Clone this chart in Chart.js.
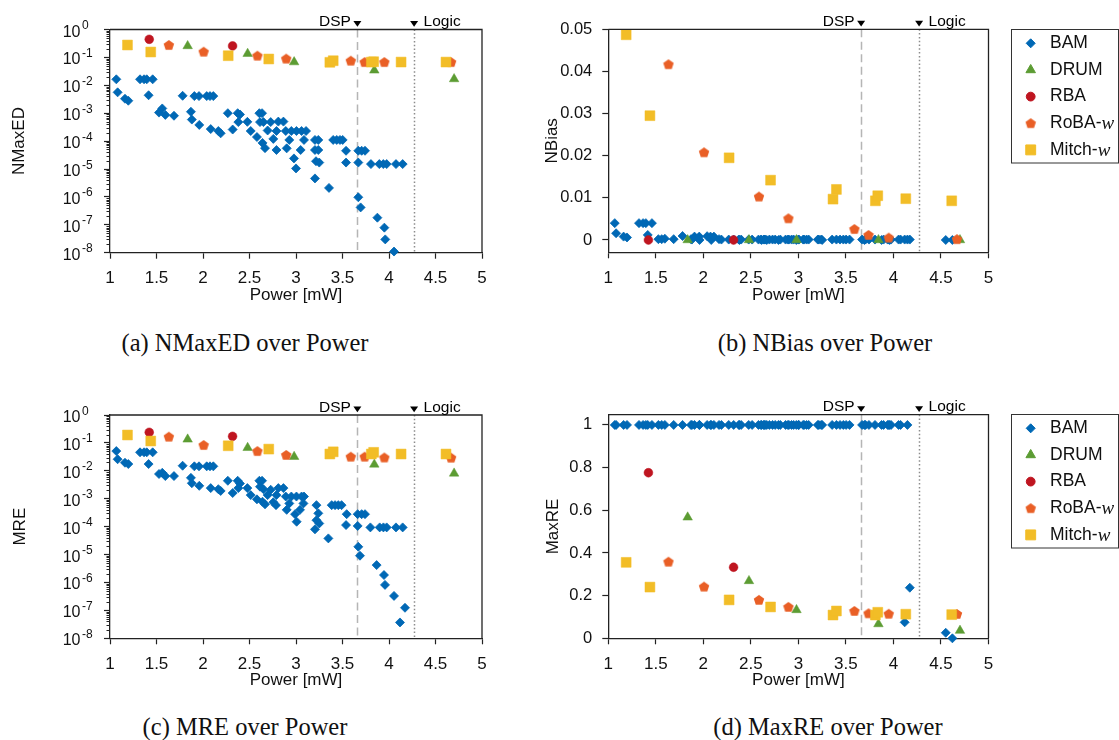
<!DOCTYPE html>
<html>
<head>
<meta charset="utf-8">
<title>Error metrics over power</title>
<script src="https://cdn.jsdelivr.net/npm/chart.js@4.4.1/dist/chart.umd.min.js"></script>
<style>
  html, body { margin: 0; padding: 0; background: #fff; }
  body { width: 1119px; height: 740px; position: relative; overflow: hidden; }
  canvas { position: absolute; display: block; }
  .caption { position: absolute; transform: translate(-50%, -50%); white-space: nowrap;
             font-family: "Liberation Serif", "Times New Roman", serif; font-size: 24.5px; color: #111; }
</style>
</head>
<body>
<canvas id="panelA" width="500" height="310" style="left:0;top:0"></canvas>
<canvas id="panelB" width="589" height="310" style="left:530px;top:0"></canvas>
<canvas id="panelC" width="500" height="310" style="left:0;top:385px"></canvas>
<canvas id="panelD" width="589" height="310" style="left:530px;top:385px"></canvas>
<div class="caption" style="left:245px;top:343px">(a) NMaxED over Power</div>
<div class="caption" style="left:825px;top:343px">(b) NBias over Power</div>
<div class="caption" style="left:245px;top:727px">(c) MRE over Power</div>
<div class="caption" style="left:828px;top:727px">(d) MaxRE over Power</div>
<script>
// ---------- axis ticks ----------
const xTickValues = [1, 1.5, 2, 2.5, 3, 3.5, 4, 4.5, 5];
const logDecades = [1, 1e-1, 1e-2, 1e-3, 1e-4, 1e-5, 1e-6, 1e-7, 1e-8];
const nbiasTicks = [0, 0.01, 0.02, 0.03, 0.04, 0.05];
const maxreTicks = [0, 0.2, 0.4, 0.6, 0.8, 1];

// ---------- implementation boundaries (power, mW) ----------
const boundaryNames = ['DSP', 'Logic'];
const boundaryPower = [3.66, 4.27];

// ---------- DRUM ----------
const drumPower  = [1.835, 2.48, 2.98, 3.842, 4.70];
const drumNMaxED = [0.257, 0.136, 0.068, 0.0344, 0.0168];
const drumNBias  = [0, 0, 0, 0, 0];
const drumMRE    = [0.134, 0.067, 0.032, 0.017, 0.0081];
const drumMaxRE  = [0.567, 0.269, 0.133, 0.067, 0.036];

// ---------- RBA ----------
const rbaPower  = [1.422, 2.318];
const rbaNMaxED = [0.445, 0.257];
const rbaNBias  = [0, 0];
const rbaMRE    = [0.24, 0.172];
const rbaMaxRE  = [0.776, 0.333];

// ---------- RoBA-w ----------
const robaPower  = [1.633, 2.007, 2.585, 2.895, 3.589, 3.738, 3.95, 4.668];
const robaNMaxED = [0.278, 0.16, 0.115, 0.09, 0.076, 0.068, 0.068, 0.068];
const robaNBias  = [0.0417, 0.0208, 0.0103, 0.00514, 0.0026, 0.0012, 0.00055, 0.0002];
const robaMRE    = [0.167, 0.084, 0.051, 0.037, 0.032, 0.032, 0.030, 0.0295];
const robaMaxRE  = [0.359, 0.242, 0.18, 0.147, 0.128, 0.117, 0.115, 0.114];

// ---------- Mitch-w ----------
const mitchPower  = [1.188, 1.438, 2.271, 2.707, 3.364, 3.400, 3.810, 3.835, 4.13, 4.613];
const mitchNMaxED = [0.278, 0.156, 0.115, 0.0877, 0.0667, 0.076, 0.068, 0.070, 0.068, 0.068];
const mitchNBias  = [0.0487, 0.0295, 0.0195, 0.0142, 0.0097, 0.0120, 0.0093, 0.0105, 0.0098, 0.0093];
const mitchMRE    = [0.192, 0.117, 0.079, 0.060, 0.040, 0.048, 0.040, 0.046, 0.040, 0.040];
const mitchMaxRE  = [0.356, 0.24, 0.18, 0.147, 0.109, 0.128, 0.109, 0.122, 0.113, 0.111];

// ---------- BAM (log panels: [power, value]) ----------
const bamNMaxED = [
  [1.068,0.0164],[1.082,0.0056],[1.161,0.0033],[1.197,0.0028],
  [1.323,0.0164],[1.366,0.0164],[1.395,0.0164],[1.459,0.0164],[1.415,0.0044],
  [1.527,0.00105],[1.562,0.00148],[1.595,0.00087],[1.688,0.00081],
  [1.781,0.0042],[1.870,0.00113],[1.880,0.00059],[1.907,0.0041],[1.957,0.0041],[1.960,0.00038],
  [2.040,0.0041],[2.075,0.0041],[2.111,0.0041],[2.083,0.00027],[2.165,0.00023],[2.190,0.00019],
  [2.267,0.0010],[2.319,0.00026],[2.373,0.0010],[2.398,0.00090],[2.380,0.00048],
  [2.477,0.00049],[2.513,0.00023],[2.580,0.00014],
  [2.606,0.0010],[2.635,0.0010],[2.613,0.00048],[2.650,0.00048],[2.640,8.6e-5],[2.667,5.6e-5],
  [2.695,0.00024],[2.728,0.00048],[2.756,0.00012],[2.790,4.8e-5],[2.790,0.00023],
  [2.810,0.00050],[2.865,0.00050],
  [2.890,0.00023],[2.950,0.00023],[3.005,0.00023],[3.060,0.00023],[3.108,0.00023],
  [2.900,5.5e-5],[2.928,0.00011],[2.978,2.4e-5],[3.000,1.05e-5],[3.050,4.8e-5],[3.086,0.00011],
  [3.204,0.00011],[3.240,0.00011],[3.204,4.8e-5],[3.240,4.8e-5],[3.215,1.9e-5],[3.250,1.7e-5],
  [3.204,4.6e-6],[3.355,2.1e-6],
  [3.400,0.00011],[3.438,0.00011],[3.473,0.00011],[3.502,0.00011],
  [3.538,4.5e-5],[3.538,1.7e-5],[3.670,1.7e-5],
  [3.670,4.5e-5],[3.706,4.5e-5],[3.742,4.5e-5],
  [3.670,9.7e-7],[3.695,4.2e-7],
  [3.806,1.5e-5],[3.896,1.5e-5],[3.939,1.5e-5],[3.975,1.5e-5],[4.075,1.5e-5],[4.147,1.5e-5],
  [3.875,1.8e-7],[3.950,7.9e-8],[3.960,3.0e-8],[4.054,1.1e-8]
];
const bamMRE = [
  [1.068,0.051],[1.082,0.026],[1.161,0.0195],[1.197,0.0175],
  [1.323,0.046],[1.366,0.046],[1.395,0.046],[1.459,0.046],[1.415,0.0175],
  [1.527,0.0077],[1.562,0.0085],[1.595,0.0065],[1.688,0.0065],
  [1.781,0.0152],[1.870,0.0056],[1.880,0.0036],[1.907,0.0145],[1.957,0.0145],[1.960,0.0029],
  [2.040,0.0145],[2.075,0.0145],[2.111,0.0145],[2.083,0.0024],[2.165,0.0022],[2.190,0.0019],
  [2.267,0.0044],[2.319,0.0016],[2.373,0.0044],[2.398,0.0035],[2.380,0.0024],
  [2.477,0.0024],[2.513,0.00135],[2.580,0.00095],
  [2.606,0.0044],[2.635,0.0044],[2.613,0.0027],[2.650,0.0022],[2.640,0.00078],[2.667,0.00063],
  [2.695,0.00135],[2.728,0.0021],[2.756,0.00075],[2.785,0.00059],[2.790,0.00135],
  [2.810,0.0024],[2.865,0.0024],
  [2.890,0.0012],[2.950,0.0012],[3.005,0.0012],[3.060,0.0012],[3.086,0.0012],
  [2.900,0.0004],[2.928,0.00068],[2.990,0.00028],[3.007,0.00015],[3.043,0.0004],[3.080,0.00068],
  [3.220,0.00059],[3.240,0.0003],[3.220,0.00017],[3.250,0.00013],[3.204,8e-5],[3.348,3.8e-5],
  [3.384,0.00059],[3.420,0.00059],[3.455,0.00059],[3.490,0.00059],
  [3.545,0.00028],[3.538,0.000114],
  [3.663,0.00028],[3.706,0.00028],[3.742,0.00028],[3.663,0.000106],
  [3.670,1.9e-5],[3.688,9.1e-6],
  [3.800,9.4e-5],[3.900,9.4e-5],[3.940,9.4e-5],[3.975,9.4e-5],[4.075,9.4e-5],[4.147,9.4e-5],
  [3.867,4.2e-6],[3.946,1.85e-6],[3.957,8.2e-7],[4.054,3.3e-7],[4.172,1.24e-7],[4.118,3.7e-8]
];

// ---------- BAM (linear panels) ----------
const bamPower = [
  1.068, 1.082, 1.161, 1.197, 1.323, 1.366, 1.395, 1.415, 1.459, 1.527,
  1.562, 1.595, 1.688, 1.781, 1.870, 1.880, 1.907, 1.957, 1.960, 2.040,
  2.075, 2.083, 2.111, 2.165, 2.190, 2.267, 2.319, 2.373, 2.380, 2.398,
  2.477, 2.513, 2.580, 2.606, 2.613, 2.635, 2.640, 2.650, 2.667, 2.695,
  2.728, 2.756, 2.790, 2.810, 2.865, 2.890, 2.900, 2.928, 2.950, 2.978,
  3.000, 3.005, 3.050, 3.060, 3.086, 3.108, 3.204, 3.215, 3.240, 3.250,
  3.355, 3.400, 3.438, 3.473, 3.502, 3.538, 3.670, 3.695, 3.706, 3.742,
  3.806, 3.875, 3.896, 3.939, 3.950, 3.960, 3.975, 4.054, 4.075, 4.118,
  4.147, 4.172, 4.550, 4.620
];
const bamNBias = [
  0.0040, 0.0016, 0.0008, 0.0006, 0.0040, 0.0040, 0.0040, 0.0012, 0.0040, 0.0002,
  0.0002, 0.0003, 0.0002, 0.00095, 0.0002, 0.0001, 0.0008, 0.0008, 0, 0.0009,
  0.0008, 0, 0.0008, 0.0002, 0.0001, 0.0001, 0.0001, 0.0001, 0, 0.0001,
  0.0001, 0.0001, 0.0001, 0.0001, 0, 0.0001, 0.0001, 0.0001, 0, 0.0001,
  0.0001, 0.0001, 0, 0.0001, 0.0001, 0.0001, 0.0001, 0.0001, 0.0001, 0,
  0.0001, 0.0001, 0.0001, 0.0001, 0.0001, 0.0001, 0.0001, 0.0001, 0.0001, 0,
  0.0001, 0.0001, 0.0001, 0.0001, 0.0001, 0.0001, 0.0001, 0, 0.0001, 0.0001,
  0.0001, 0, 0.0001, 0.0001, 0.0001, 0, 0.0001, 0.0001, 0.0001, 0.0001,
  0.0001, 0.0001, 0, 0
];
const bamMaxRE = [
  1, 1, 1, 1, 1, 1, 1, 1, 1, 1,
  1, 1, 1, 1, 1, 1, 1, 1, 1, 1,
  1, 1, 1, 1, 1, 1, 1, 1, 1, 1,
  1, 1, 1, 1, 1, 1, 1, 1, 1, 1,
  1, 1, 1, 1, 1, 1, 1, 1, 1, 1,
  1, 1, 1, 1, 1, 1, 1, 1, 1, 1,
  1, 1, 1, 1, 1, 1, 1, 1, 1, 1,
  1, 1, 1, 1, 1, 1, 1, 1, 1, 0.075,
  1, 0.237, 0.026, 0
];

// ---------- drawing styles ----------
const FONT = '"Liberation Sans", Arial, Helvetica, sans-serif';
const SERIF = '"Liberation Serif", "Times New Roman", serif';
const INK = '#111';
const AXIS = '#222';

function pentagonSprite(color) {
  const c = document.createElement('canvas');
  c.width = 12; c.height = 12;
  const g = c.getContext('2d');
  const R = 5.5, cx = 6, cy = 6.4;
  g.beginPath();
  for (let i = 0; i < 5; i++) {
    const a = -Math.PI / 2 + i * 2 * Math.PI / 5;
    const px = cx + R * Math.cos(a), py = cy + R * Math.sin(a);
    if (i) g.lineTo(px, py); else g.moveTo(px, py);
  }
  g.closePath();
  g.fillStyle = color;
  g.fill();
  return c;
}

const SERIES_STYLE = {
  'BAM':     { color: '#0068b5', shape: 'rectRot',  radius: 4.5, border: 0.8, order: 5 },
  'DRUM':    { color: '#5c9c33', shape: 'triangle', radius: 5.5, border: 0.5, order: 4 },
  'RBA':     { color: '#bf1520', shape: 'circle',   radius: 4.4, border: 0.5, order: 3 },
  'RoBA-w':  { color: '#e95f26', shape: pentagonSprite('#e95f26'), radius: 5, border: 0, order: 2 },
  'Mitch-w': { color: '#f2bd27', shape: 'rect',     radius: 7.0, border: 0.5, order: 1 }
};

function zip(xs, ys) { return xs.map((x, i) => ({ x, y: ys[i] })); }
function pairs(list) { return list.map(([x, y]) => ({ x, y })); }

function dataset(name, data) {
  const s = SERIES_STYLE[name];
  return {
    label: name, data, order: s.order, clip: false, showLine: false,
    pointStyle: s.shape, pointRadius: s.radius,
    pointBackgroundColor: s.color, pointBorderColor: s.color, pointBorderWidth: s.border
  };
}

// ---------- plugins ----------
const frame = {
  id: 'frame',
  afterDraw(chart) {
    const { ctx, chartArea: a } = chart;
    ctx.save();
    ctx.strokeStyle = AXIS; ctx.lineWidth = 1.3;
    ctx.beginPath();
    ctx.moveTo(a.left, a.top); ctx.lineTo(a.right, a.top); ctx.lineTo(a.right, a.bottom);
    ctx.stroke();
    ctx.restore();
  }
};

const boundaries = {
  id: 'boundaries',
  beforeDatasetsDraw(chart) {
    const { ctx, chartArea: a, scales: { x } } = chart;
    ctx.save();
    boundaryPower.forEach((p, i) => {
      const px = Math.round(x.getPixelForValue(p)) + 0.5;
      ctx.strokeStyle = i === 0 ? '#b5b5b5' : '#8c8c8c';
      ctx.lineWidth = 1.5;
      ctx.setLineDash(i === 0 ? [8, 4.5] : [1.5, 2.3]);
      ctx.beginPath(); ctx.moveTo(px, a.top); ctx.lineTo(px, a.bottom); ctx.stroke();
    });
    ctx.restore();
  },
  afterDraw(chart) {
    const { ctx, chartArea: a, scales: { x } } = chart;
    ctx.save();
    ctx.fillStyle = '#000';
    ctx.font = `15.5px ${FONT}`;
    ctx.textBaseline = 'alphabetic';
    boundaryPower.forEach((p, i) => {
      const px = x.getPixelForValue(p);
      ctx.beginPath();
      ctx.moveTo(px - 4, a.top - 8.5); ctx.lineTo(px + 4, a.top - 8.5); ctx.lineTo(px, a.top - 2.8);
      ctx.closePath(); ctx.fill();
      if (i === 0) { ctx.textAlign = 'right'; ctx.fillText(boundaryNames[i], px - 6.5, a.top - 3.5); }
      else { ctx.textAlign = 'left'; ctx.fillText(boundaryNames[i], px + 9.5, a.top - 3.5); }
    });
    ctx.restore();
  }
};

const logLabels = {
  id: 'logLabels',
  afterDraw(chart) {
    const { ctx, chartArea: a, scales: { y } } = chart;
    ctx.save();
    ctx.strokeStyle = AXIS; ctx.lineWidth = 1;
    for (let e = -8; e < 0; e++) {
      for (let m = 2; m <= 9; m++) {
        const py = Math.round(y.getPixelForValue(m * Math.pow(10, e))) + 0.5;
        ctx.beginPath(); ctx.moveTo(a.left - 3.5, py); ctx.lineTo(a.left, py); ctx.stroke();
      }
    }
    ctx.fillStyle = INK;
    ctx.textBaseline = 'alphabetic';
    logDecades.forEach(v => {
      const e = Math.round(Math.log10(v));
      const py = y.getPixelForValue(v);
      ctx.font = `16px ${FONT}`; ctx.textAlign = 'right';
      ctx.fillText('10', a.left - 29.5, py + 7);
      ctx.font = `12px ${FONT}`; ctx.textAlign = 'left';
      ctx.fillText(String(e), a.left - 28, py - 0.5);
    });
    ctx.restore();
  }
};

const boxLegend = {
  id: 'boxLegend',
  afterDraw(chart) {
    const { ctx, chartArea: a } = chart;
    const left = a.right + 22.5, top = 29, w = 107, h = 133.5;
    ctx.save();
    ctx.fillStyle = '#fff';
    ctx.fillRect(left, top, w, h);
    ctx.strokeStyle = '#333'; ctx.lineWidth = 1;
    ctx.strokeRect(Math.round(left) + 0.5, Math.round(top) + 0.5, w, h);
    chart.data.datasets.forEach((d, i) => {
      const yc = top + 14.3 + i * 26.65;
      ctx.fillStyle = d.pointBackgroundColor; ctx.strokeStyle = d.pointBorderColor;
      Chart.helpers.drawPoint(ctx, { pointStyle: d.pointStyle, radius: d.pointRadius, rotation: 0,
                                     borderWidth: d.pointBorderWidth }, left + 19.7, yc);
      ctx.fillStyle = INK; ctx.textAlign = 'left'; ctx.textBaseline = 'middle';
      ctx.font = `17.5px ${FONT}`;
      const name = d.label;
      if (name.endsWith('-w')) {
        const head = name.slice(0, -1);
        ctx.fillText(head, left + 39, yc);
        const wx = left + 39 + ctx.measureText(head).width;
        ctx.font = `italic 19px ${SERIF}`;
        ctx.fillText('w', wx, yc + 1);
      } else {
        ctx.fillText(name, left + 39, yc);
      }
    });
    ctx.restore();
  }
};

// ---------- panel builder ----------
function makePanel(id, cfg) {
  const gridOpts = { drawOnChartArea: false, drawTicks: true, tickLength: 6, tickColor: AXIS, tickWidth: 1.2 };
  const borderOpts = { display: true, color: AXIS, width: 1.3 };
  const xScale = {
    type: 'linear', min: 1, max: 5,
    afterBuildTicks: s => { s.ticks = xTickValues.map(v => ({ value: v })); },
    afterFit: s => { s.height = cfg.xHeight; },
    grid: gridOpts, border: borderOpts,
    ticks: { color: INK, font: { family: FONT, size: 17 }, padding: 9.5, maxRotation: 0, autoSkip: false,
             callback: v => String(v) },
    title: { display: true, text: 'Power [mW]', color: INK, font: { family: FONT, size: 17 },
             padding: { top: 0, bottom: cfg.xTitlePad } }
  };
  const yScale = cfg.log ? {
    type: 'logarithmic', min: 1e-8, max: 1,
    afterBuildTicks: s => { s.ticks = logDecades.map(v => ({ value: v, major: true })); },
    ticks: { display: false }
  } : {
    type: 'linear', min: cfg.yMin, max: cfg.yMax,
    afterBuildTicks: s => { s.ticks = cfg.yTicks.map(v => ({ value: v })); },
    ticks: { display: true, color: INK, font: { family: FONT, size: 16.5 }, padding: 10,
             callback: v => String(+(+v).toFixed(3)) }
  };
  Object.assign(yScale, {
    afterFit: s => { s.width = cfg.yWidth; },
    grid: gridOpts, border: borderOpts,
    title: { display: true, text: cfg.yTitle, color: INK, font: { family: FONT, size: 17 },
             padding: { top: cfg.yTitlePad, bottom: 0 } }
  });
  const plugins = [frame, boundaries];
  if (cfg.log) plugins.push(logLabels);
  if (cfg.legend) plugins.push(boxLegend);
  return new Chart(document.getElementById(id), {
    type: 'scatter',
    data: { datasets: cfg.datasets },
    options: {
      responsive: false, animation: false, devicePixelRatio: 1, events: [],
      layout: { padding: { top: cfg.top, right: cfg.right, left: 0, bottom: 0 } },
      plugins: { legend: { display: false }, tooltip: { enabled: false }, title: { display: false } },
      scales: { x: xScale, y: yScale }
    },
    plugins
  });
}

makePanel('panelA', {
  log: true, yTitle: 'NMaxED', top: 29.5, right: 18, yWidth: 110, xHeight: 57.3, yTitlePad: 8.8, xTitlePad: 4.8,
  datasets: [
    dataset('BAM', pairs(bamNMaxED)),
    dataset('DRUM', zip(drumPower, drumNMaxED)),
    dataset('RBA', zip(rbaPower, rbaNMaxED)),
    dataset('RoBA-w', zip(robaPower, robaNMaxED)),
    dataset('Mitch-w', zip(mitchPower, mitchNMaxED))
  ]
});

makePanel('panelB', {
  log: false, yMin: -0.00292, yMax: 0.05, yTicks: nbiasTicks, yTitle: 'NBias', legend: true,
  top: 29.3, right: 130.5, yWidth: 78.3, xHeight: 57.7, yTitlePad: 12.5, xTitlePad: 4.8,
  datasets: [
    dataset('BAM', zip(bamPower, bamNBias)),
    dataset('DRUM', zip(drumPower, drumNBias)),
    dataset('RBA', zip(rbaPower, rbaNBias)),
    dataset('RoBA-w', zip(robaPower, robaNBias)),
    dataset('Mitch-w', zip(mitchPower, mitchNBias))
  ]
});

makePanel('panelC', {
  log: true, yTitle: 'MRE', top: 30, right: 18, yWidth: 110, xHeight: 56.7, yTitlePad: 9.8, xTitlePad: 4.2,
  datasets: [
    dataset('BAM', pairs(bamMRE)),
    dataset('DRUM', zip(drumPower, drumMRE)),
    dataset('RBA', zip(rbaPower, rbaMRE)),
    dataset('RoBA-w', zip(robaPower, robaMRE)),
    dataset('Mitch-w', zip(mitchPower, mitchMRE))
  ]
});

makePanel('panelD', {
  log: false, yMin: 0, yMax: 1.048, yTicks: maxreTicks, yTitle: 'MaxRE', legend: true,
  top: 29.7, right: 130.5, yWidth: 78.3, xHeight: 56.7, yTitlePad: 13.5, xTitlePad: 4.2,
  datasets: [
    dataset('BAM', zip(bamPower, bamMaxRE)),
    dataset('DRUM', zip(drumPower, drumMaxRE)),
    dataset('RBA', zip(rbaPower, rbaMaxRE)),
    dataset('RoBA-w', zip(robaPower, robaMaxRE)),
    dataset('Mitch-w', zip(mitchPower, mitchMaxRE))
  ]
});
</script>
</body>
</html>
